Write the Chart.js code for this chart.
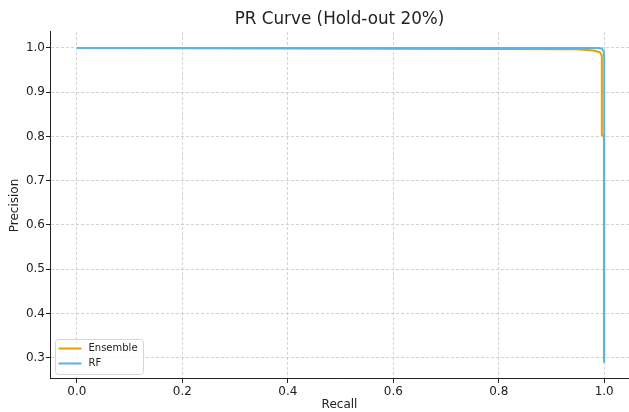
<!DOCTYPE html>
<html>
<head>
<meta charset="utf-8">
<script src="https://cdn.jsdelivr.net/npm/chart.js@4.4.0/dist/chart.umd.min.js"></script>
<style>
  html, body { margin: 0; padding: 0; background: #fff; }
  #wrap { width: 629px; height: 412px; }
</style>
</head>
<body>
<div id="wrap"><canvas id="prChart" width="629" height="412"></canvas></div>
<script>
// PR curve values
const ensembleRecall    = [0.0, 0.948, 0.980, 0.992, 0.9955, 0.9955, 0.9995, 0.9995];
const ensemblePrecision = [1.0, 0.997, 0.994, 0.990, 0.982, 0.803, 0.800, 0.289];
const rfRecall          = [0.0, 0.990, 0.996, 0.999, 1.0, 1.0];
const rfPrecision       = [1.0, 1.0, 0.998, 0.992, 0.980, 0.289];
const xTicks = [0.0, 0.2, 0.4, 0.6, 0.8, 1.0];
const yTicks = [0.3, 0.4, 0.5, 0.6, 0.7, 0.8, 0.9, 1.0];

const FONT = "'DejaVu Sans', sans-serif";

function toPoints(xs, ys) {
    return xs.map((x, i) => ({ x: x, y: ys[i] }));
}

// legend drawn inside the axes, lower left, like matplotlib
const insideLegend = {
    id: 'insideLegend',
    afterDatasetsDraw(chart) {
        const ctx = chart.ctx;
        const area = chart.chartArea;
        const x0 = area.left + 5.5, y0 = area.bottom - 40;
        const w = 88, h = 35;
        ctx.save();
        ctx.fillStyle = 'rgba(255,255,255,0.8)';
        ctx.strokeStyle = '#d6d6d6';
        ctx.lineWidth = 1;
        ctx.beginPath();
        ctx.roundRect(x0, y0 + 0.5, w, h, 3);
        ctx.fill();
        ctx.stroke();
        ctx.font = '10px ' + FONT;
        ctx.textBaseline = 'middle';
        chart.data.datasets.forEach((ds, i) => {
            const yy = y0 + 9.5 + i * 15;
            ctx.strokeStyle = ds.borderColor;
            ctx.lineWidth = 2;
            ctx.beginPath();
            ctx.moveTo(x0 + 3, yy);
            ctx.lineTo(x0 + 26, yy);
            ctx.stroke();
            ctx.fillStyle = '#222';
            ctx.fillText(ds.label, x0 + 33, yy);
        });
        ctx.restore();
    }
};

const gridStyle = {
    color: '#c8c8c8',
    lineWidth: 0.8,
    tickColor: '#222',
    tickLength: 4,
    tickBorderDash: [],
    tickWidth: 1
};

new Chart(document.getElementById('prChart'), {
    type: 'line',
    data: {
        datasets: [
            {
                label: 'Ensemble',
                data: toPoints(ensembleRecall, ensemblePrecision),
                borderColor: '#E69F00',
                borderWidth: 2,
                pointRadius: 0,
                tension: 0,
                fill: false,
                order: 1
            },
            {
                label: 'RF',
                data: toPoints(rfRecall, rfPrecision),
                borderColor: '#56B4E9',
                borderWidth: 2,
                pointRadius: 0,
                tension: 0,
                fill: false,
                order: 0
            }
        ]
    },
    options: {
        responsive: false,
        animation: false,
        layout: { padding: { top: 0, right: 0, left: 0, bottom: 0 } },
        plugins: {
            legend: { display: false },
            tooltip: { enabled: false },
            title: {
                display: true,
                text: 'PR Curve (Hold-out 20%)',
                fullSize: false,
                color: '#222',
                font: { family: FONT, size: 16.8, weight: 'normal', lineHeight: 1.2 },
                padding: { top: 10, bottom: 1.8 }
            }
        },
        scales: {
            x: {
                type: 'linear',
                min: -0.051,
                max: 1.047,
                afterBuildTicks: s => { s.ticks = xTicks.map(v => ({ value: v })); },
                afterFit: s => { s.height = 33; },
                ticks: {
                    color: '#222',
                    font: { family: FONT, size: 12 },
                    padding: 2,
                    callback: v => v.toFixed(1)
                },
                grid: { ...gridStyle },
                border: { display: true, color: '#222', width: 1, dash: [3, 2] },
                title: {
                    display: true,
                    text: 'Recall',
                    color: '#222',
                    font: { family: FONT, size: 12 },
                    padding: { top: 2, bottom: 0 }
                }
            },
            y: {
                type: 'linear',
                min: 0.252,
                max: 1.036,
                afterBuildTicks: s => { s.ticks = yTicks.map(v => ({ value: v })); },
                afterFit: s => { s.width = 50; },
                ticks: {
                    color: '#222',
                    font: { family: FONT, size: 12 },
                    padding: 1,
                    callback: v => v.toFixed(1)
                },
                grid: { ...gridStyle },
                border: { display: true, color: '#222', width: 1, dash: [3, 2] },
                title: {
                    display: true,
                    text: 'Precision',
                    color: '#222',
                    font: { family: FONT, size: 12 },
                    padding: { top: 8, bottom: 0 }
                }
            }
        }
    },
    plugins: [insideLegend]
});
</script>
</body>
</html>
